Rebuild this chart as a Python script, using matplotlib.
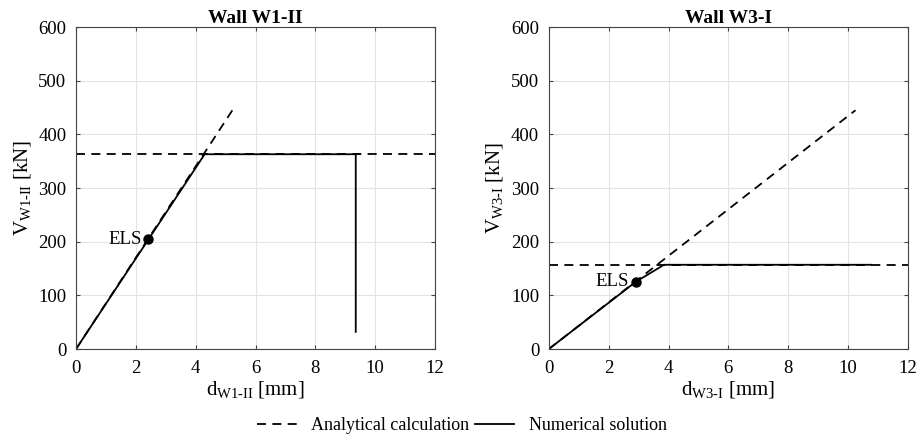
import matplotlib
matplotlib.use("Agg")
import matplotlib.pyplot as plt
from matplotlib.lines import Line2D

plt.rcParams["font.family"] = ["Liberation Serif", "DejaVu Serif"]
plt.rcParams["mathtext.fontset"] = "custom"
plt.rcParams["mathtext.rm"] = "Liberation Serif"
plt.rcParams["mathtext.it"] = "Liberation Serif:italic"

# Wall W1-II
w1_num_d = [0.0, 4.3, 9.35, 9.35]
w1_num_v = [0.0, 363.0, 363.0, 32.0]
w1_num_tail_d = [9.35, 9.5]
w1_ana_d = [0.0, 5.25]
w1_ana_v = [0.0, 447.0]
w1_cap = 363.0
w1_els = (2.42, 205.0)

# Wall W3-I
w3_num_d = [0.0, 2.9, 3.85, 10.78]
w3_num_v = [0.0, 125.0, 157.0, 157.0]
w3_ana_d = [0.0, 10.25]
w3_ana_v = [0.0, 445.0]
w3_cap = 157.0
w3_els = (2.9, 125.0)

fig = plt.figure(figsize=(9.24, 4.41), dpi=100)
ax1 = fig.add_axes([0.0823, 0.2086, 0.3885, 0.730])
ax2 = fig.add_axes([0.594, 0.2086, 0.3885, 0.730])

dash = (0, (5, 3.5))
lw = 1.3

# left panel
ax1.plot(w1_ana_d, w1_ana_v, color="black", lw=lw, linestyle=dash)
ax1.plot([0, 12], [w1_cap, w1_cap], color="black", lw=lw, linestyle=dash)
ax1.plot(w1_num_d, w1_num_v, color="black", lw=lw)
ax1.plot(w1_num_tail_d, [w1_cap, w1_cap], color="black", lw=lw)
ax1.plot(*w1_els, "o", color="black", ms=6.5)
ax1.text(w1_els[0] - 0.22, w1_els[1], "ELS", ha="right", va="center", fontsize=13.5)

# right panel
ax2.plot(w3_ana_d, w3_ana_v, color="black", lw=lw, linestyle=dash)
ax2.plot([0, 12], [w3_cap, w3_cap], color="black", lw=lw, linestyle=dash)
ax2.plot(w3_num_d, w3_num_v, color="black", lw=lw)
ax2.plot(*w3_els, "o", color="black", ms=6.5)
ax2.text(w3_els[0] - 0.22, w3_els[1], "ELS", ha="right", va="center", fontsize=13.5)

titles = ["Wall W1-II", "Wall W3-I"]
subs = ["W1\\text{-}II", "W3\\text{-}I"]
for ax, title, sub in zip([ax1, ax2], titles, subs):
    ax.set_xlim(0, 12)
    ax.set_ylim(0, 600)
    ax.set_xticks(range(0, 13, 2))
    ax.set_yticks(range(0, 601, 100))
    ax.grid(True, color="#e3e3e3", lw=0.8)
    ax.set_axisbelow(True)
    ax.tick_params(direction="in", top=True, right=True, labelsize=13.5,
                   length=3, color="#444444")
    ax.tick_params(axis="x", pad=8)
    ax.tick_params(axis="y", pad=7)
    for s in ax.spines.values():
        s.set_color("#444444")
        s.set_linewidth(0.8)
    ax.set_title(title, fontweight="bold", fontsize=14, pad=3)
    ax.set_xlabel(r"$\mathrm{d}_{\mathrm{%s}}$ [mm]" % sub, fontsize=15, labelpad=1)
    ax.set_ylabel(r"$\mathrm{V}_{\mathrm{%s}}$ [kN]" % sub, fontsize=15, labelpad=4)

handles = [Line2D([], [], color="black", lw=lw, linestyle=dash),
           Line2D([], [], color="black", lw=lw)]
fig.legend(handles, ["Analytical calculation", "Numerical solution"],
           loc="center", bbox_to_anchor=(0.5, 0.035), ncol=2, frameon=False,
           fontsize=13, handlelength=2.2, handletextpad=0.8, columnspacing=0.3)

fig.savefig("out.png", dpi=100)
